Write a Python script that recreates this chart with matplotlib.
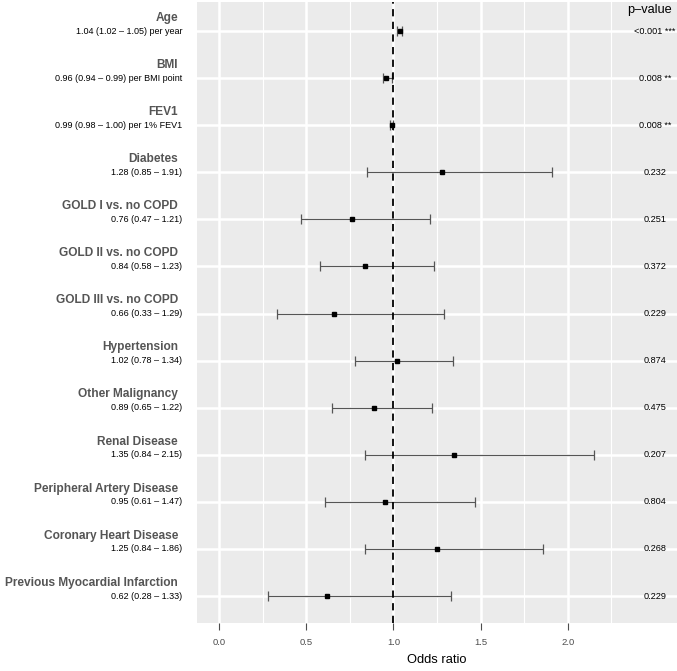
import numpy as np
import matplotlib
matplotlib.use("Agg")
import matplotlib.pyplot as plt
from matplotlib.transforms import blended_transform_factory

plt.rcParams['font.family'] = ['Liberation Sans', 'DejaVu Sans']

names = ["Age", "BMI", "FEV1", "Diabetes", "GOLD I vs. no COPD", "GOLD II vs. no COPD",
         "GOLD III vs. no COPD", "Hypertension", "Other Malignancy", "Renal Disease",
         "Peripheral Artery Disease", "Coronary Heart Disease", "Previous Myocardial Infarction"]
odds = [1.04, 0.96, 0.99, 1.28, 0.76, 0.84, 0.66, 1.02, 0.89, 1.35, 0.95, 1.25, 0.62]
lower = [1.02, 0.94, 0.98, 0.85, 0.47, 0.58, 0.33, 0.78, 0.65, 0.84, 0.61, 0.84, 0.28]
upper = [1.05, 0.99, 1.00, 1.91, 1.21, 1.23, 1.29, 1.34, 1.22, 2.15, 1.47, 1.86, 1.33]
units = [" per year", " per BMI point", " per 1% FEV1", "", "", "", "", "", "", "", "", "", ""]
pvals = ["<0.001 ***", "0.008 **", "0.008 **", "0.232", "0.251", "0.372", "0.229",
         "0.874", "0.475", "0.207", "0.804", "0.268", "0.229"]
xticks = [0.0, 0.5, 1.0, 1.5, 2.0]

n = len(names)
ypos = np.arange(n, 0, -1)

fig = plt.figure(figsize=(6.77, 6.71), dpi=100)
ax = fig.add_axes([197 / 677, 48 / 671, 480 / 677, 621 / 671])
ax.set_facecolor('#EBEBEB')

# grid like ggplot
for v in np.arange(0.25, 2.6, 0.5):
    ax.axvline(v, color='white', lw=0.8, zorder=0)
for v in xticks:
    ax.axvline(v, color='white', lw=1.8, zorder=0)
for y in ypos:
    ax.axhline(y, color='white', lw=1.8, zorder=0)

ax.errorbar(odds, ypos, xerr=[np.array(odds) - np.array(lower), np.array(upper) - np.array(odds)],
            fmt='s', color='black', ms=2.6, ecolor='#555555', elinewidth=0.9,
            capsize=3.4, capthick=0.9, zorder=3)
ax.axvline(1.0, color='black', lw=1.3, ls=(0, (4, 3)), zorder=4)

ax.set_xlim(-0.126, 2.626)
ax.set_ylim(0.427, 13.616)
ax.set_xticks(xticks)
ax.set_xticklabels(["%.1f" % t for t in xticks], color='#4D4D4D', fontsize=6.8)
ax.tick_params(axis='x', length=5, width=0.8, color='#4D4D4D', pad=6)
ax.set_yticks([])
for s in ax.spines.values():
    s.set_visible(False)
ax.set_xlabel("Odds ratio", fontsize=9.3, labelpad=5)

tr = blended_transform_factory(fig.transFigure, ax.transData)
for i in range(n):
    ax.text(178 / 677, ypos[i] + 0.28, names[i], transform=tr, ha='right', va='center',
            fontsize=8.6, fontweight='bold', color='#555555', clip_on=False)
    label = "%.2f (%.2f \u2013 %.2f)%s" % (odds[i], lower[i], upper[i], units[i])
    ax.text(182 / 677, ypos[i], label, transform=tr, ha='right', va='center',
            fontsize=6.5, color='black', clip_on=False)
    ax.text(2.5, ypos[i], pvals[i], ha='center', va='center', fontsize=6.6, color='black')

ax.text(2.47, 13.44, "p\u2013value", ha='center', va='center', fontsize=9.2, color='black')

fig.savefig("out.png", dpi=100)
